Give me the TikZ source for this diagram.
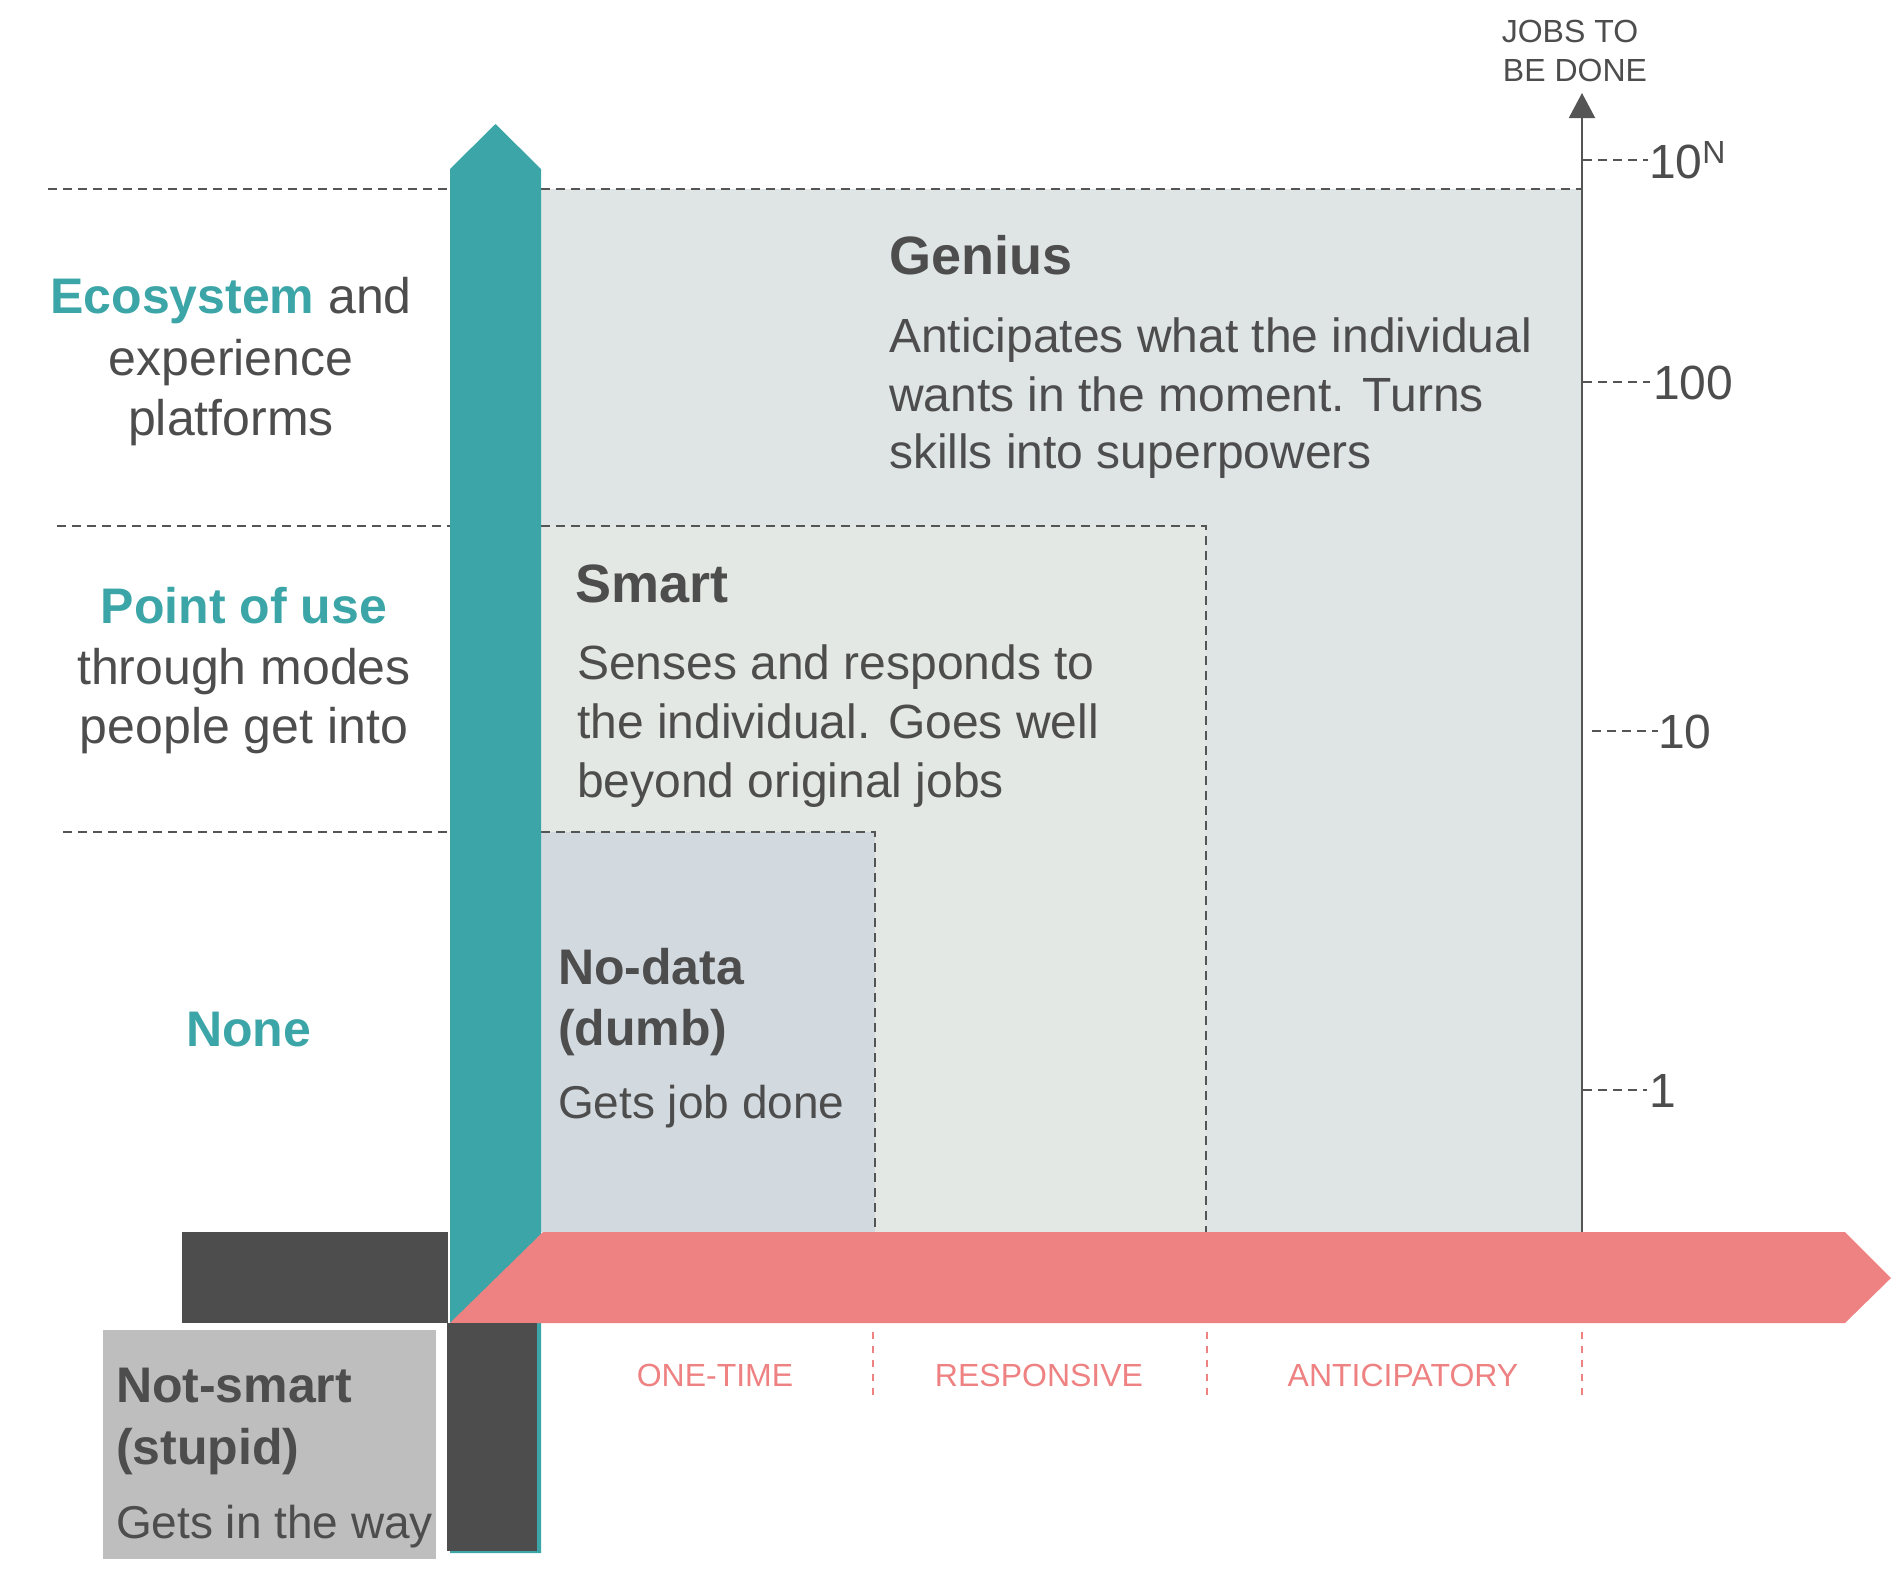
\documentclass[tikz,border=0pt]{standalone}
\usepackage{fontspec}
\setmainfont{Liberation Sans}
\usetikzlibrary{arrows.meta}
\definecolor{cTeal}{HTML}{3BA5A7}
\definecolor{cPink}{HTML}{EE8182}
\definecolor{cDark}{HTML}{4D4D4D}
\definecolor{cText}{HTML}{4D4D4D}
\definecolor{cLine}{HTML}{555555}
\definecolor{cNS}{HTML}{BEBEBE}
\definecolor{cGen}{HTML}{DFE5E4}
\definecolor{cSmart}{HTML}{E4E8E4}
\definecolor{cNod}{HTML}{D2D9DF}
\begin{document}
\begin{tikzpicture}[x=0.5pt,y=-0.5pt,
  dline/.style={draw=cLine, line width=0.8pt, dash pattern=on 4.5pt off 3pt},
  pline/.style={draw=cPink, line width=0.8pt, dash pattern=on 3.5pt off 3.5pt},
  txt/.style={inner sep=0pt, outer sep=0pt, text=cText},
  bigtitle/.style={txt, anchor=base west, font=\fontsize{27}{32}\selectfont\bfseries},
  body/.style={txt, anchor=base west, font=\fontsize{24}{29}\selectfont},
  smtitle/.style={txt, anchor=base west, font=\fontsize{25}{30}\selectfont\bfseries},
  smbody/.style={txt, anchor=base west, font=\fontsize{23}{28}\selectfont},
  lefttxt/.style={txt, anchor=base, font=\fontsize{25}{30}\selectfont},
  axtxt/.style={txt, anchor=base, text=cPink, font=\fontsize{16}{19}\selectfont},
  ticktxt/.style={txt, anchor=base west, font=\fontsize{24}{29}\selectfont}
]
\useasboundingbox (0,0) rectangle (1892,1581);

% quadrant fills
\fill[cGen] (541,189) rectangle (1582,1232);
\fill[cSmart] (541,526) rectangle (1206,1232);
\fill[cNod] (541,832) rectangle (875,1232);

% dashed borders
\draw[dline] (541,189) -- (1582,189);
\draw[dline] (541,526) -- (1206,526) -- (1206,1232);
\draw[dline] (541,832) -- (875,832) -- (875,1232);

% left dashed guide lines
\draw[dline] (48,189) -- (450,189);
\draw[dline] (57,526) -- (450,526);
\draw[dline] (63,832) -- (450,832);

% teal vertical arrow
\fill[cTeal] (450,1553) -- (450,169) -- (495.5,124) -- (541,169) -- (541,1553) -- cycle;

% dark horizontal bar
\fill[cDark] (182,1232) rectangle (448,1323);

% pink horizontal arrow
\fill[cPink] (450,1323) -- (543,1232) -- (1845,1232) -- (1891,1278) -- (1845,1323) -- cycle;

% dark vertical bar
\fill[cDark] (447,1323) rectangle (537,1551);

% not-smart box
\fill[cNS] (103,1330) rectangle (436,1559);

% jobs axis
\coordinate (axB) at (1582,1232);
\coordinate (axT) at (1582,93);
\draw[cLine, line width=1pt, -{Triangle[width=13pt,length=12.5pt]}] (axB) -- (axT);

% ticks
\draw[dline] (1583,160) -- (1648,160);
\draw[dline] (1583,382) -- (1650,382);
\draw[dline] (1592,731) -- (1658,731);
\draw[dline] (1583,1090) -- (1647,1090);

% separators under pink arrow
\draw[pline] (873,1332) -- (873,1397);
\draw[pline] (1207,1332) -- (1207,1397);
\draw[pline] (1582,1332) -- (1582,1397);

% axis title
\node[txt, anchor=base, font=\fontsize{16}{19}\selectfont] (jobs1) at (1570,42) {JOBS TO};
\node[txt, anchor=base, font=\fontsize{16}{19}\selectfont] (jobs2) at (1575,81) {BE DONE};

% tick labels
\node[ticktxt] (t10n) at (1649,178) {10\raisebox{7.5pt}{\fontsize{16}{16}\selectfont N}};
\node[ticktxt] (t100) at (1653,399) {100};
\node[ticktxt] (t10) at (1658,748) {10};
\node[ticktxt] (t1) at (1649,1107) {1};

% Genius
\node[bigtitle] (genT) at (889,274) {Genius};
\node[body] (gen1) at (889,352.7) {Anticipates what the individual};
\node[body] (gen2) at (889,411) {wants in the moment. Turns};
\node[body] (gen3) at (889,468) {skills into superpowers};

% Smart
\node[bigtitle] (smT) at (575,602.7) {Smart};
\node[body] (sm1) at (577,679) {Senses and responds to};
\node[body] (sm2) at (577,738) {the individual. Goes well};
\node[body] (sm3) at (577,797) {beyond original jobs};

% No-data
\node[smtitle] (ndT1) at (558,984) {No-data};
\node[smtitle] (ndT2) at (558,1045) {(dumb)};
\node[smbody] (nd1) at (558,1118) {Gets job done};

% Not-smart
\node[smtitle] (nsT1) at (116,1402) {Not-smart};
\node[smtitle] (nsT2) at (116,1464) {(stupid)};
\node[smbody] (ns1) at (116,1538) {Gets in the way};

% left labels
\node[lefttxt] (eco1) at (231,313) {\textcolor{cTeal}{\bfseries Ecosystem} and};
\node[lefttxt] (eco2) at (231,375) {experience};
\node[lefttxt] (eco3) at (231,435) {platforms};
\node[lefttxt, text=cTeal, font=\fontsize{25}{30}\selectfont\bfseries] (pou1) at (244,623) {Point of use};
\node[lefttxt] (pou2) at (244,684) {through modes};
\node[lefttxt] (pou3) at (244,743) {people get into};
\node[lefttxt, text=cTeal, font=\fontsize{25}{30}\selectfont\bfseries] (none) at (248.5,1046) {None};

% x-axis labels
\node[axtxt] (ax1) at (715,1386) {ONE-TIME};
\node[axtxt] (ax2) at (1039,1386) {RESPONSIVE};
\node[axtxt] (ax3) at (1403,1386) {ANTICIPATORY};
\end{tikzpicture}
\end{document}
